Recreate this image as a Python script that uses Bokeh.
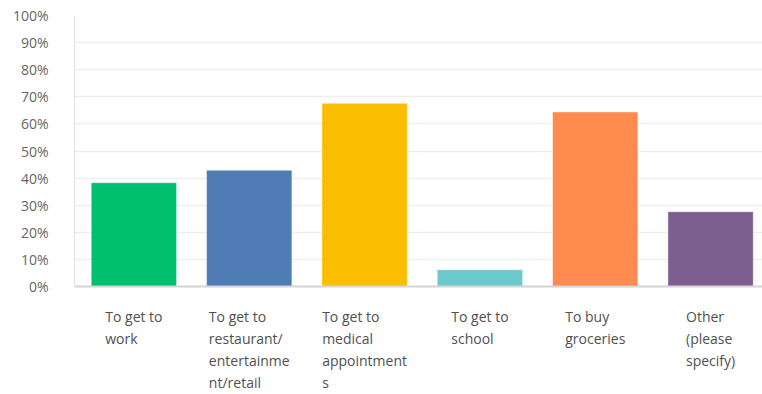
import numpy as np
from bokeh.plotting import figure
from bokeh.models import Range1d, FixedTicker, NumeralTickFormatter, ColumnDataSource, Label, Span
from bokeh.embed import file_html
from bokeh.resources import INLINE

categories = [
    "To get to\nwork",
    "To get to\nrestaurant/\nentertainme\nnt/retail",
    "To get to\nmedical\nappointment\ns",
    "To get to\nschool",
    "To buy\ngroceries",
    "Other\n(please\nspecify)",
]
values = [38.3, 42.9, 67.6, 6.2, 64.4, 27.6]
colors = ["#00BF6F", "#507CB6", "#F9BE00", "#6BC8CD", "#FF8B4F", "#7D5E90"]
y_ticks = list(range(0, 101, 10))

xpos = np.arange(len(categories)) + 0.5
src = ColumnDataSource(dict(x=xpos, top=values, color=colors))

# frame extends below 0 so that the category labels (left-aligned lines) are not clipped
p = figure(width=762, height=394, output_backend="svg", toolbar_location=None,
           x_range=Range1d(-0.015, 5.95), y_range=Range1d(-39.85, 100),
           min_border_left=74, min_border_right=0, min_border_top=15, min_border_bottom=0)
p.outline_line_color = None
p.background_fill_color = "white"
p.border_fill_color = "white"

p.xgrid.grid_line_color = None
p.ygrid.grid_line_color = "#eeeeee"
p.ygrid.grid_line_width = 1.5

p.vbar(x="x", top="top", width=0.74, bottom=0, fill_color="color",
       line_color="white", line_alpha=0.45, line_width=1, source=src)

# baseline (x axis line)
p.xaxis.visible = False
p.add_layout(Span(location=0, dimension="width", line_color="#d5d5d5", line_width=2))

for x, c in zip(xpos, categories):
    p.add_layout(Label(x=float(x), y=0, y_offset=-20, text=c, anchor="top_center",
                       text_align="left", text_font="Open Sans", text_font_size="14px",
                       text_color="#505050", text_line_height=1.17))

# y axis
p.yaxis.ticker = FixedTicker(ticks=y_ticks)
p.yaxis.bounds = (0, 100)
p.yaxis.formatter = NumeralTickFormatter(format="0")
p.yaxis.major_label_overrides = {t: f"{t}%" for t in y_ticks}
p.yaxis.major_tick_line_color = None
p.yaxis.minor_tick_line_color = None
p.yaxis.axis_line_color = "#e3e3e3"
p.yaxis.axis_line_width = 1
p.yaxis.major_label_standoff = 20
p.yaxis.major_label_text_font = "Open Sans"
p.yaxis.major_label_text_font_size = "14px"
p.yaxis.major_label_text_color = "#666666"

open("out.html", "w").write(file_html(p, INLINE))
